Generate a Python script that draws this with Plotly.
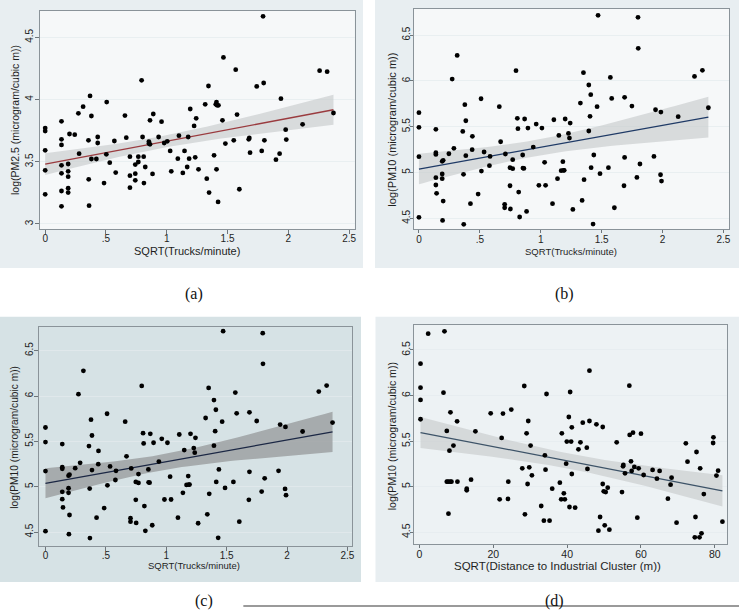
import numpy as np
import plotly.graph_objects as go

# ---------------- data ----------------
# (a) log(PM2.5) vs SQRT(Trucks/minute)
trucks_a = [0, 0, 0, 0, 0, 0.134, 0.134, 0.134, 0.134, 0.134, 0.134, 0.134,
            0.189, 0.189, 0.189, 0.189, 0.189, 0.200, 0.243, 0.273, 0.279, 0.312,
            0.356, 0.358, 0.361, 0.369, 0.380, 0.380, 0.421, 0.432, 0.432, 0.484,
            0.503, 0.506, 0.531, 0.569, 0.580, 0.656, 0.667, 0.697, 0.697, 0.697,
            0.741, 0.741, 0.741, 0.766, 0.766, 0.801, 0.793, 0.810, 0.812, 0.823,
            0.853, 0.853, 0.862, 0.862, 0.883, 0.889, 0.933, 0.957, 0.979, 1.004,
            1.028, 1.037, 1.100, 1.091, 1.132, 1.146, 1.168, 1.176, 1.184, 1.193,
            1.225, 1.234, 1.242, 1.261, 1.316, 1.329, 1.343, 1.348, 1.389, 1.403,
            1.409, 1.414, 1.425, 1.409, 1.422, 1.458, 1.466, 1.482, 1.551, 1.567,
            1.578, 1.597, 1.674, 1.679, 1.685, 1.740, 1.781, 1.792, 1.797, 1.803,
            1.898, 1.928, 1.939, 1.978, 1.983, 2.117, 2.257, 2.319, 2.371]
pm25_a = [3.771, 3.747, 3.592, 3.431, 3.238, 3.825, 3.680, 3.635, 3.471, 3.407, 3.265, 3.142,
          3.482, 3.423, 3.380, 3.287, 3.252, 3.723, 3.718, 3.889, 3.565, 3.943,
          3.672, 3.359, 3.147, 4.029, 3.868, 3.522, 3.522, 3.699, 3.651, 3.329,
          3.560, 3.980, 3.493, 3.667, 3.413, 3.871, 3.694, 3.541, 3.388, 3.292,
          3.404, 3.351, 3.477, 3.541, 3.498, 3.699, 4.155, 3.541, 3.329, 3.458,
          3.662, 3.646, 3.640, 3.833, 3.402, 3.884, 3.699, 3.822, 3.651, 3.664,
          3.587, 3.423, 3.710, 3.525, 3.410, 3.587, 3.458, 3.699, 3.525, 3.924,
          3.788, 3.536, 3.849, 3.439, 3.962, 3.364, 4.109, 3.252, 3.552, 3.962,
          3.980, 3.954, 3.954, 3.439, 3.177, 3.833, 4.339, 3.646, 3.672, 4.240,
          3.879, 3.279, 3.680, 3.691, 3.573, 4.106, 3.587, 4.669, 4.133, 3.672,
          3.517, 3.565, 4.007, 3.758, 3.678, 3.801, 4.232, 4.224, 3.892]

# (b) and (c) log(PM10) vs SQRT(Trucks/minute)
trucks_b = [0, 0, 0, 0, 0.139, 0.139, 0.139, 0.139, 0.139, 0.145, 0.191, 0.191, 0.191,
            0.199, 0.194, 0.199, 0.246, 0.273, 0.287, 0.314, 0.360, 0.366, 0.368, 0.377,
            0.385, 0.385, 0.423, 0.439, 0.437, 0.486, 0.510, 0.513, 0.535, 0.579, 0.584,
            0.660, 0.671, 0.710, 0.704, 0.704, 0.748, 0.748, 0.751, 0.770, 0.770, 0.797,
            0.808, 0.813, 0.819, 0.827, 0.852, 0.854, 0.862, 0.868, 0.884, 0.895, 0.939,
            0.963, 0.985, 1.010, 1.032, 1.040, 1.097, 1.108, 1.138, 1.149, 1.168, 1.182,
            1.187, 1.193, 1.201, 1.228, 1.236, 1.242, 1.264, 1.326, 1.340, 1.351, 1.356,
            1.395, 1.395, 1.405, 1.411, 1.414, 1.430, 1.436, 1.463, 1.471, 1.487, 1.556,
            1.572, 1.583, 1.605, 1.684, 1.689, 1.689, 1.749, 1.790, 1.799, 1.801, 1.815,
            1.930, 1.943, 1.984, 1.987, 1.992, 2.129, 2.263, 2.328, 2.377]
pm10_b = [5.653, 5.493, 5.173, 4.511, 5.471, 5.216, 5.198, 4.944, 4.864, 4.773, 4.984, 4.933, 5.122,
          5.133, 4.478, 4.689, 5.205, 6.020, 5.264, 6.278, 5.449, 4.980, 4.435, 5.740,
          5.565, 5.184, 4.660, 5.395, 5.249, 4.765, 5.805, 5.016, 5.224, 5.075, 5.176,
          5.718, 5.336, 5.202, 4.653, 4.616, 5.053, 4.856, 4.602, 5.042, 5.140, 6.111,
          5.591, 5.478, 4.787, 4.515, 5.191, 5.049, 5.045, 5.584, 4.576, 5.485, 5.278,
          5.529, 4.860, 5.485, 5.111, 4.860, 4.660, 5.576, 4.933, 5.405, 5.020, 5.118,
          5.024, 5.024, 5.584, 5.427, 5.376, 5.540, 4.598, 5.758, 4.696, 6.089, 4.922,
          5.955, 5.453, 5.613, 5.849, 5.053, 4.438, 5.191, 5.718, 6.715, 4.987, 5.053,
          6.038, 5.809, 4.616, 4.856, 5.165, 5.820, 5.725, 4.947, 6.693, 6.355, 5.093,
          5.176, 5.685, 4.976, 5.660, 4.907, 5.609, 6.049, 6.115, 5.707]

# (d) log(PM10) vs SQRT(Distance to Industrial Cluster (m))
dist_d = [2.34, 6.76, 0.27, 0.27, 0.27, 0.27, 6.49, 8.38, 7.39, 10.18, 8.11, 9.19, 7.39, 7.75,
          8.29, 8.65, 10.27, 7.84, 12.79, 12.79, 13.96, 15.14, 19.28, 21.71, 22.61, 22.25,
          23.96, 24.05, 24.86, 27.84, 28.38, 28.56, 29.28, 29.73, 30.45, 29.01, 29.46, 30.09,
          32.97, 33.69, 35.23, 34.41, 34.14, 33.96, 35.95, 38.02, 38.38, 38.56, 39.10, 39.37,
          39.73, 39.91, 40.45, 40.81, 41.08, 41.26, 41.26, 40.63, 42.16, 43.06, 43.60, 44.23,
          45.32, 45.50, 46.04, 46.04, 47.93, 48.92, 48.47, 49.64, 49.64, 49.91, 50.45, 50.18,
          50.99, 51.44, 53.42, 54.86, 55.14, 55.23, 55.68, 56.85, 56.94, 57.30, 57.48, 57.84,
          58.20, 59.01, 59.37, 60.00, 60.72, 63.15, 64.32, 65.05, 67.30, 68.02, 68.29, 69.64,
          72.16, 72.61, 74.59, 74.77, 75.05, 75.86, 76.40, 76.04, 77.03, 80.90, 82.07, 79.55,
          79.64, 80.45]
pm10_d = [6.679, 6.705, 6.350, 6.087, 5.952, 5.740, 6.032, 5.816, 5.612, 5.718, 5.396, 5.451,
          5.056, 5.056, 5.056, 5.056, 5.056, 4.705, 4.979, 4.961, 5.078, 5.608, 5.805, 4.862,
          5.802, 5.535, 4.866, 5.056, 5.846, 5.202, 6.105, 4.697, 5.030, 5.213, 5.125, 5.586,
          5.721, 5.451, 4.789, 4.628, 4.628, 6.017, 5.187, 5.345, 4.979, 5.045, 4.862, 5.586,
          4.928, 4.862, 5.253, 5.495, 5.765, 6.039, 5.495, 5.652, 5.140, 4.778, 4.771, 5.410,
          5.487, 5.703, 5.429, 5.195, 5.721, 6.273, 5.685, 4.668, 4.518, 5.655, 5.030, 4.950,
          4.942, 4.577, 4.990, 4.529, 5.487, 4.942, 5.224, 5.239, 5.147, 6.109, 5.568, 5.279,
          5.173, 5.593, 5.217, 4.661, 5.202, 5.582, 5.129, 5.184, 5.089, 5.173, 4.869, 5.023,
          5.100, 4.606, 5.476, 5.275, 4.445, 4.668, 5.381, 4.445, 4.489, 5.202, 4.920, 5.176,
          4.617, 5.480, 5.542, 5.122]

truck_ticks = [0, 0.5, 1, 1.5, 2, 2.5]
truck_tick_labels = ["0", ".5", "1", "1.5", "2", "2.5"]
pm25_ticks = [3, 3.5, 4, 4.5]
pm25_tick_labels = ["3", "3.5", "4", "4.5"]
pm10_ticks = [4.5, 5, 5.5, 6, 6.5]
pm10_tick_labels = ["4.5", "5", "5.5", "6", "6.5"]
dist_ticks = [0, 20, 40, 60, 80]
dist_tick_labels = ["0", "20", "40", "60", "80"]
panel_labels = ["(a)", "(b)", "(c)", "(d)"]

# ---------------- helpers ----------------
W, H = 741, 616
T_CRIT = 1.982


def lfitci(x, y, npts=60):
    x = np.asarray(x, float)
    y = np.asarray(y, float)
    n = len(x)
    b, a = np.polyfit(x, y, 1)
    resid = y - (a + b * x)
    s = np.sqrt(np.sum(resid ** 2) / (n - 2))
    xbar = x.mean()
    sxx = np.sum((x - xbar) ** 2)
    xs = np.linspace(x.min(), x.max(), npts)
    yh = a + b * xs
    se = s * np.sqrt(1.0 / n + (xs - xbar) ** 2 / sxx)
    return xs, yh, yh - T_CRIT * se, yh + T_CRIT * se


def px(xp):
    return xp / W


def py(yp):
    return 1 - yp / H


panels = [
    dict(x=trucks_a, y=pm25_a, box=(39.7, 11, 355.7, 229.3), bg=(0, 0, 364, 268),
         xr=[-0.046, 2.546], yr=[2.957, 4.712],
         xt=truck_ticks, xtl=truck_tick_labels, yt=pm25_ticks, ytl=pm25_tick_labels,
         outer="#e8eef1", inner="#f6f8f9", band="rgba(200,203,205,0.65)", line="#9a3b3f",
         xtitle="SQRT(Trucks/minute)", ytitle="log(PM2.5 (microgram/cubic m))",
         xtpos=(188, 251.5), ytpos=(15, 120), xfs=11, yfs=10.5, tfs=10,
         tlen=4, xso=-4, yso=-2),
    dict(x=trucks_b, y=pm10_b, box=(414.7, 9, 731.3, 229), bg=(376, 0, 741, 268),
         xr=[-0.044, 2.549], yr=[4.384, 6.784],
         xt=truck_ticks, xtl=truck_tick_labels, yt=pm10_ticks, ytl=pm10_tick_labels,
         outer="#e8eef1", inner="#f6f8f9", band="rgba(200,203,205,0.65)", line="#1f3a66",
         xtitle="SQRT(Trucks/minute)", ytitle="log(PM10 (microgram/cubic m))",
         xtpos=(572.5, 251), ytpos=(392.7, 130), xfs=9.5, yfs=11, tfs=10,
         tlen=3, xso=-2, yso=-4),
    dict(x=trucks_b, y=pm10_b, box=(39.3, 326.7, 353.3, 545.5), bg=(0, 316.7, 362, 582),
         xr=[-0.052, 2.541], yr=[4.353, 6.764],
         xt=truck_ticks, xtl=truck_tick_labels, yt=pm10_ticks, ytl=pm10_tick_labels,
         outer="#d6e2e5", inner="#d6e2e5", band="rgba(150,152,154,0.75)", line="#1b2744",
         xtitle="SQRT(Trucks/minute)", ytitle="log(PM10 (microgram/cubic m))",
         xtpos=(195, 565.5), ytpos=(15, 436.7), xfs=9.5, yfs=10.2, tfs=10,
         tlen=4, xso=-4, yso=-3),
    dict(x=dist_d, y=pm10_d, box=(415, 325, 729.3, 544), bg=(376.5, 316.7, 741, 582),
         xr=[-1.53, 83.4], yr=[4.372, 6.774],
         xt=dist_ticks, xtl=dist_tick_labels, yt=pm10_ticks, ytl=pm10_tick_labels,
         outer="#e8eef1", inner="#edf2f4", band="rgba(200,203,205,0.65)", line="#3d5368",
         xtitle="SQRT(Distance to Industrial Cluster (m))", ytitle="log(PM10 (microgram/cubic m))",
         xtpos=(558.8, 565.5), ytpos=(392.7, 436.7), xfs=11.5, yfs=10.6, tfs=10.5,
         tlen=3, xso=-3, yso=-4),
]

label_pos = [(195, 294), (566, 294), (205, 601), (556, 601)]

fig = go.Figure()
shapes = []
annotations = []
layout_axes = {}
FONT = "Liberation Sans, Arial, sans-serif"

for i, p in enumerate(panels, start=1):
    xa = "x" if i == 1 else f"x{i}"
    ya = "y" if i == 1 else f"y{i}"
    x0, y0, x1, y1 = p["box"]
    bx0, by0, bx1, by1 = p["bg"]
    shapes.append(dict(type="rect", xref="paper", yref="paper", layer="below",
                       x0=px(bx0), x1=px(bx1), y0=py(by1), y1=py(by0),
                       fillcolor=p["outer"], line=dict(width=0)))
    shapes.append(dict(type="rect", xref="paper", yref="paper", layer="below",
                       x0=px(x0), x1=px(x1), y0=py(y1), y1=py(y0),
                       fillcolor=p["inner"], line=dict(width=0)))

    xs, yh, lo, hi = lfitci(p["x"], p["y"])
    fig.add_trace(go.Scatter(x=np.concatenate([xs, xs[::-1]]),
                             y=np.concatenate([hi, lo[::-1]]),
                             fill="toself", fillcolor=p["band"], line=dict(width=0),
                             mode="lines", hoverinfo="skip", showlegend=False,
                             xaxis=xa, yaxis=ya))
    fig.add_trace(go.Scatter(x=xs, y=yh, mode="lines",
                             line=dict(color=p["line"], width=1.3),
                             showlegend=False, xaxis=xa, yaxis=ya))
    fig.add_trace(go.Scatter(x=p["x"], y=p["y"], mode="markers",
                             marker=dict(color="black", size=4.8, line=dict(width=0)),
                             showlegend=False, xaxis=xa, yaxis=ya))

    axcommon = dict(showline=True, linecolor="#8a9399", linewidth=1, mirror=True,
                    ticks="outside", ticklen=p["tlen"], tickwidth=1, tickcolor="#6d757a",
                    zeroline=False, fixedrange=True,
                    tickfont=dict(family=FONT, size=p["tfs"], color="#1e1e1e"))
    layout_axes["xaxis" if i == 1 else f"xaxis{i}"] = dict(
        axcommon, domain=[px(x0), px(x1)], range=p["xr"], anchor=ya,
        tickvals=p["xt"], ticktext=p["xtl"], showgrid=False,
        ticklabelstandoff=p["xso"])
    layout_axes["yaxis" if i == 1 else f"yaxis{i}"] = dict(
        axcommon, domain=[py(y1), py(y0)], range=p["yr"], anchor=xa,
        tickvals=p["yt"], ticktext=p["ytl"], tickangle=-90,
        showgrid=True, gridcolor="rgba(228,235,238,0.7)", gridwidth=1,
        ticklabelstandoff=p["yso"])

    annotations.append(dict(text=p["xtitle"], xref="paper", yref="paper",
                            x=px(p["xtpos"][0]), y=py(p["xtpos"][1]),
                            xanchor="center", yanchor="middle", showarrow=False,
                            font=dict(family=FONT, size=p["xfs"], color="#1e1e1e")))
    annotations.append(dict(text=p["ytitle"], xref="paper", yref="paper",
                            x=px(p["ytpos"][0]), y=py(p["ytpos"][1]), textangle=-90,
                            xanchor="center", yanchor="middle", showarrow=False,
                            font=dict(family=FONT, size=p["yfs"], color="#1e1e1e")))

for lab, (lx, ly) in zip(panel_labels, label_pos):
    annotations.append(dict(text=lab, xref="paper", yref="paper", x=px(lx), y=py(ly),
                            xanchor="center", yanchor="middle", showarrow=False,
                            font=dict(family="Liberation Serif, Times New Roman, serif",
                                      size=16, color="#111111")))

# thin rule at the bottom of the page
shapes.append(dict(type="line", xref="paper", yref="paper", x0=px(244), x1=1,
                   y0=py(606), y1=py(606), line=dict(color="#9a9a9a", width=2)))

fig.update_layout(width=W, height=H, margin=dict(l=0, r=0, t=0, b=0),
                  paper_bgcolor="white", plot_bgcolor="rgba(0,0,0,0)",
                  showlegend=False, shapes=shapes, annotations=annotations,
                  **layout_axes)

fig.write_html("out.html", config={"displayModeBar": False},
               post_script="document.body.style.margin='0';"
                           "document.body.style.padding='0';"
                           "document.body.style.overflow='hidden';")
